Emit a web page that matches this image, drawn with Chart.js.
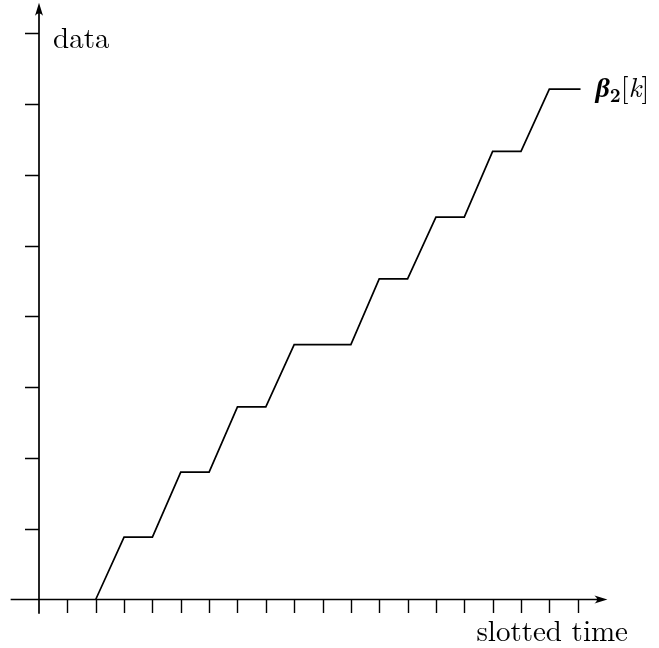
<!DOCTYPE html>
<html>
<head>
<meta charset="utf-8">
<script src="https://cdn.jsdelivr.net/npm/chart.js@4/dist/chart.umd.min.js"></script>
<style>
  html, body { margin: 0; padding: 0; background: #ffffff; }
  canvas { display: block; }
</style>
</head>
<body>
<canvas id="steps" width="659" height="648"></canvas>
<script>
// slot index (x) and beta_2[k] level (y)
const slots = [2, 3, 4, 5, 6, 7, 8, 9, 11, 12, 13, 14, 15, 16, 17, 18, 19.1];
const beta2 = [0, 0.88, 0.88, 1.8, 1.8, 2.72, 2.72, 3.6, 3.6, 4.53, 4.53, 5.4, 5.4, 6.33, 6.33, 7.21, 7.21];
const xTicks = [1, 2, 3, 4, 5, 6, 7, 8, 9, 10, 11, 12, 13, 14, 15, 16, 17, 18, 19];
const yTicks = [1, 2, 3, 4, 5, 6, 7, 8];
const xLabel = "slotted time";
const yLabel = "data";

const serif = "'Latin Modern Roman', 'Liberation Serif', serif";

function arrowHead(ctx, x, y, dir) {
  // latex-style arrow tip, dir = "right" or "up"
  ctx.save();
  ctx.translate(x, y);
  if (dir === "up") ctx.rotate(-Math.PI / 2);
  ctx.beginPath();
  ctx.moveTo(0, 0);
  ctx.lineTo(-13, -4);
  ctx.quadraticCurveTo(-8, 0, -13, 4);
  ctx.closePath();
  ctx.fillStyle = "#000";
  ctx.fill();
  ctx.restore();
}

const axesPlugin = {
  id: "sketchAxes",
  afterDraw(chart) {
    const ctx = chart.ctx;
    const xs = chart.scales.x;
    const ys = chart.scales.y;
    const x0 = xs.getPixelForValue(0);
    const y0 = ys.getPixelForValue(0);
    const left = xs.getPixelForValue(xs.min);
    const right = xs.getPixelForValue(xs.max);
    const top = ys.getPixelForValue(ys.max);
    const bottom = ys.getPixelForValue(ys.min);

    ctx.save();
    ctx.strokeStyle = "#000";
    ctx.lineCap = "butt";

    // axis lines
    ctx.lineWidth = 1.7;
    ctx.beginPath();
    ctx.moveTo(left, y0);
    ctx.lineTo(right - 7, y0);
    ctx.moveTo(x0, bottom);
    ctx.lineTo(x0, top + 7);
    ctx.stroke();
    arrowHead(ctx, right, y0, "right");
    arrowHead(ctx, x0, top, "up");

    // tick marks
    ctx.lineWidth = 1.4;
    ctx.beginPath();
    xTicks.forEach((t) => {
      const px = Math.round(xs.getPixelForValue(t)) + 0.5;
      ctx.moveTo(px, y0);
      ctx.lineTo(px, y0 + 13.5);
    });
    yTicks.forEach((t) => {
      const py = Math.round(ys.getPixelForValue(t)) + 0.5;
      ctx.moveTo(x0 - 14, py);
      ctx.lineTo(x0, py);
    });
    ctx.stroke();

    // axis labels
    ctx.fillStyle = "#000";
    ctx.textBaseline = "alphabetic";
    ctx.font = `29px ${serif}`;
    ctx.textAlign = "left";
    ctx.fillText(yLabel, x0 + 14, 48);
    ctx.textAlign = "right";
    ctx.fillText(xLabel, 628, 641);

    // series label beta_2[k]
    const last = slots.length - 1;
    let lx = xs.getPixelForValue(slots[last]) + 15;
    const ly = ys.getPixelForValue(beta2[last]) + 8;
    ctx.textAlign = "left";
    ctx.font = `italic bold 28px ${serif}`;
    ctx.fillText("β", lx, ly);
    lx += ctx.measureText("β").width;
    ctx.font = `bold 19px ${serif}`;
    ctx.fillText("2", lx, ly + 5);
    lx += ctx.measureText("2").width;
    ctx.font = `28px ${serif}`;
    ctx.fillText("[", lx, ly);
    lx += ctx.measureText("[").width;
    ctx.font = `italic 28px ${serif}`;
    ctx.fillText("k", lx, ly);
    lx += ctx.measureText("k").width;
    ctx.font = `28px ${serif}`;
    ctx.fillText("]", lx, ly);
    ctx.restore();
  },
};

new Chart(document.getElementById("steps"), {
  type: "line",
  data: {
    datasets: [
      {
        label: "beta2",
        data: slots.map((s, i) => ({ x: s, y: beta2[i] })),
        borderColor: "#000000",
        borderWidth: 1.7,
        pointRadius: 0,
        tension: 0,
        fill: false,
      },
    ],
  },
  options: {
    responsive: false,
    animation: false,
    devicePixelRatio: 1,
    layout: { padding: { left: 10.65, right: 51.55, top: 2.7, bottom: 34.34 } },
    plugins: { legend: { display: false }, tooltip: { enabled: false } },
    scales: {
      x: { type: "linear", min: -1, max: 20.05, display: false },
      y: { type: "linear", min: -0.2, max: 8.43, display: false },
    },
  },
  plugins: [axesPlugin],
});
</script>
</body>
</html>
